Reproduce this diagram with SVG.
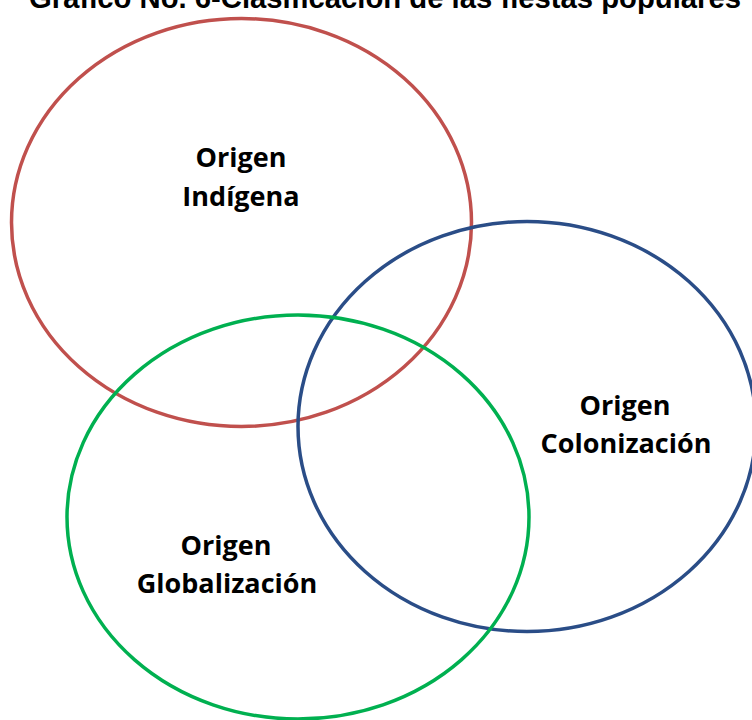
<svg xmlns="http://www.w3.org/2000/svg" width="752" height="720" viewBox="0 0 752 720">
<style>
.t{font-family:"Liberation Sans",Arial,sans-serif;font-weight:bold;font-size:29px;fill:#000}
.l{font-family:"Open Sans","Liberation Sans",sans-serif;font-weight:bold;font-size:27px;fill:#000;text-anchor:middle}
.e{fill:none;stroke-width:3.5}
</style>
<rect width="752" height="720" fill="#fff"/>
<text class="t" x="29" y="8" textLength="712" lengthAdjust="spacingAndGlyphs">Gráfico No. 6-Clasificación de las fiestas populares</text>
<g id="indigena">
<ellipse class="e" cx="241.5" cy="222.5" rx="230" ry="204" stroke="#C0504D"/>
<text class="l" x="241" y="167">Origen</text>
<text class="l" x="241" y="206">Indígena</text>
</g>
<g id="colonizacion">
<ellipse class="e" cx="527" cy="426.5" rx="229" ry="205" stroke="#2A4D87"/>
<text class="l" x="625" y="415">Origen</text>
<text class="l" x="626" y="453">Colonización</text>
</g>
<g id="globalizacion">
<ellipse class="e" cx="298" cy="517" rx="231" ry="202" stroke="#00B050"/>
<text class="l" x="226" y="555">Origen</text>
<text class="l" x="227" y="593">Globalización</text>
</g>
<g id="connectors"/>
</svg>
